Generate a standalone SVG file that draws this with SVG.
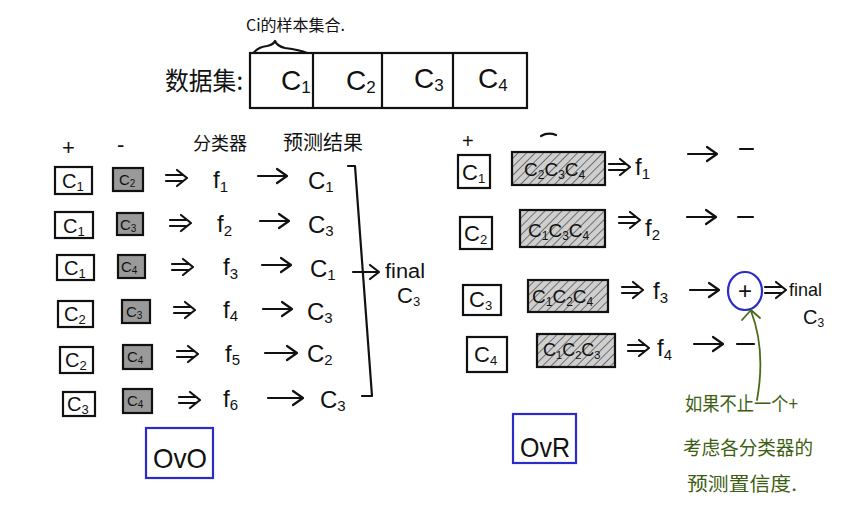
<svg xmlns="http://www.w3.org/2000/svg" width="841" height="507" viewBox="0 0 841 507">
<style>
.ln{fill:none;stroke:#111;stroke-width:2.2;stroke-linecap:round;stroke-linejoin:round}
.bx{fill:#fff;stroke:#111;stroke-width:2.2}
.sh{fill:#9a9a9a;stroke:#111;stroke-width:2.2}
.hs{fill:url(#hatch);stroke:#111;stroke-width:2.2}
.blue{fill:none;stroke:#2b2bc8;stroke-width:2.2}
.t{font-family:"Liberation Sans","Noto Sans CJK SC",sans-serif;fill:#111}
.cn{font-family:"Noto Sans CJK SC",sans-serif;fill:#111}
.gr{font-family:"Noto Sans CJK SC",sans-serif;fill:#3d5e12;font-size:19px}
.c{font-size:20px}
.f{font-size:24px}
.r{font-size:24px}
</style>
<defs>
<pattern id="hatch" width="6" height="6" patternUnits="userSpaceOnUse" patternTransform="rotate(45)">
<rect width="6" height="6" fill="#cfcfcf"/>
<line x1="0" y1="0" x2="0" y2="6" stroke="#6e6e6e" stroke-width="2"/>
</pattern>
<path id="dbl" d="M0,-3 H17 M0,3 H17 M11,-8 L21,0 L11,8"/>
<path id="sgl" d="M0,0 H28 M19,-7 L29,0 L19,7"/>
</defs>
<rect width="841" height="507" fill="#fff"/>

<g id="dataset">
<text class="cn" x="246" y="31" font-size="16">Ci的样本集合.</text>
<path class="ln" d="M252,55 Q257,47 267,46 Q273,45 275,41 Q277,46 285,48 Q300,50 307,53"/>
<text class="cn" x="165" y="90" font-size="25" textLength="78" lengthAdjust="spacingAndGlyphs">数据集:</text>
<rect class="bx" x="250" y="53" width="277" height="55"/>
<path class="ln" d="M313,53 V108 M382,53 V108 M453,53 V108"/>
<text class="t" x="281" y="90" font-size="28">C<tspan font-size="17" dy="3">1</tspan></text>
<text class="t" x="346" y="90" font-size="28">C<tspan font-size="17" dy="3">2</tspan></text>
<text class="t" x="414" y="88" font-size="28">C<tspan font-size="17" dy="3">3</tspan></text>
<text class="t" x="478" y="88" font-size="28">C<tspan font-size="17" dy="3">4</tspan></text>
</g>

<g id="ovo-header">
<text class="t" x="62" y="155" font-size="22">+</text>
<text class="t" x="117" y="152" font-size="22">-</text>
<text class="cn" x="193" y="150" font-size="18">分类器</text>
<text class="cn" x="283" y="150" font-size="20">预测结果</text>
</g>

<g id="ovo-row1">
<rect class="bx" x="55" y="167" width="37" height="27"/>
<text class="t c" x="62" y="188">C<tspan font-size="13" dy="3">1</tspan></text>
<rect class="sh" x="113" y="168" width="30" height="23"/>
<text class="t" x="119" y="185" font-size="15">C<tspan font-size="10" dy="2">2</tspan></text>
<text class="t f" x="213" y="188">f<tspan font-size="15" dy="4">1</tspan></text>
<text class="t r" x="308" y="189">C<tspan font-size="15" dy="3">1</tspan></text>
</g>
<g id="ovo-row2">
<rect class="bx" x="55" y="212" width="38" height="26"/>
<text class="t c" x="63" y="233">C<tspan font-size="13" dy="3">1</tspan></text>
<rect class="sh" x="117" y="213" width="26" height="22"/>
<text class="t" x="120" y="230" font-size="15">C<tspan font-size="10" dy="2">3</tspan></text>
<text class="t f" x="217" y="232">f<tspan font-size="15" dy="4">2</tspan></text>
<text class="t r" x="308" y="233">C<tspan font-size="15" dy="3">3</tspan></text>
</g>
<g id="ovo-row3">
<rect class="bx" x="57" y="255" width="37" height="25"/>
<text class="t c" x="64" y="275">C<tspan font-size="13" dy="3">1</tspan></text>
<rect class="sh" x="118" y="255" width="27" height="23"/>
<text class="t" x="121" y="272" font-size="15">C<tspan font-size="10" dy="2">4</tspan></text>
<text class="t f" x="223" y="275">f<tspan font-size="15" dy="4">3</tspan></text>
<text class="t r" x="310" y="277">C<tspan font-size="15" dy="3">1</tspan></text>
</g>
<g id="ovo-row4">
<rect class="bx" x="58" y="301" width="35" height="26"/>
<text class="t c" x="64" y="321">C<tspan font-size="13" dy="3">2</tspan></text>
<rect class="sh" x="122" y="300" width="28" height="23"/>
<text class="t" x="126" y="317" font-size="15">C<tspan font-size="10" dy="2">3</tspan></text>
<text class="t f" x="223" y="318">f<tspan font-size="15" dy="3">4</tspan></text>
<text class="t r" x="307" y="320">C<tspan font-size="15" dy="3">3</tspan></text>
</g>
<g id="ovo-row5">
<rect class="bx" x="60" y="347" width="33" height="26"/>
<text class="t c" x="65" y="367">C<tspan font-size="13" dy="3">2</tspan></text>
<rect class="sh" x="123" y="345" width="29" height="24"/>
<text class="t" x="127" y="362" font-size="15">C<tspan font-size="10" dy="2">4</tspan></text>
<text class="t f" x="225" y="362">f<tspan font-size="15" dy="3">5</tspan></text>
<text class="t r" x="307" y="362">C<tspan font-size="15" dy="3">2</tspan></text>
</g>
<g id="ovo-row6">
<rect class="bx" x="63" y="392" width="32" height="24"/>
<text class="t c" x="67" y="411">C<tspan font-size="13" dy="3">3</tspan></text>
<rect class="sh" x="123" y="389" width="29" height="24"/>
<text class="t" x="127" y="406" font-size="15">C<tspan font-size="10" dy="2">4</tspan></text>
<text class="t f" x="223" y="407">f<tspan font-size="15" dy="3">6</tspan></text>
<text class="t r" x="320" y="408">C<tspan font-size="15" dy="3">3</tspan></text>
</g>

<g id="ovo-final">
<text class="t" x="385" y="278" font-size="20" textLength="40" lengthAdjust="spacingAndGlyphs">final</text>
<text class="t" x="397" y="303" font-size="22">C<tspan font-size="13" dy="3">3</tspan></text>
</g>

<g id="ovo-label">
<rect class="blue" x="146" y="428" width="67" height="50"/>
<text class="t" x="180" y="468" font-size="28" text-anchor="middle" textLength="54" lengthAdjust="spacingAndGlyphs">OvO</text>
</g>

<g id="ovr-header">
<text class="t" x="462" y="148" font-size="20">+</text>
<path class="ln" d="M541,136 Q548,132 556,135"/>
</g>

<g id="ovr-row1">
<rect class="bx" x="458" y="155" width="32" height="33"/>
<text class="t" x="462" y="180" font-size="22">C<tspan font-size="13" dy="3">1</tspan></text>
<rect class="hs" x="512" y="152" width="93" height="33"/>
<text class="t" x="524" y="176" font-size="19">C<tspan font-size="12" dy="3">2</tspan><tspan dy="-3">C</tspan><tspan font-size="12" dy="3">3</tspan><tspan dy="-3">C</tspan><tspan font-size="12" dy="3">4</tspan></text>
<text class="t f" x="635" y="175">f<tspan font-size="15" dy="4">1</tspan></text>
<path class="ln" d="M740,149 H753"/>
</g>
<g id="ovr-row2">
<rect class="bx" x="460" y="217" width="32" height="32"/>
<text class="t" x="464" y="241" font-size="22">C<tspan font-size="13" dy="3">2</tspan></text>
<rect class="hs" x="520" y="210" width="85" height="37"/>
<text class="t" x="528" y="237" font-size="19">C<tspan font-size="12" dy="3">1</tspan><tspan dy="-3">C</tspan><tspan font-size="12" dy="3">3</tspan><tspan dy="-3">C</tspan><tspan font-size="12" dy="3">4</tspan></text>
<text class="t f" x="645" y="236">f<tspan font-size="15" dy="4">2</tspan></text>
<path class="ln" d="M738,217 H753"/>
</g>
<g id="ovr-row3">
<rect class="bx" x="463" y="285" width="38" height="30"/>
<text class="t" x="469" y="307" font-size="22">C<tspan font-size="13" dy="3">3</tspan></text>
<rect class="hs" x="528" y="280" width="80" height="32"/>
<text class="t" x="532" y="303" font-size="19">C<tspan font-size="12" dy="3">1</tspan><tspan dy="-3">C</tspan><tspan font-size="12" dy="3">2</tspan><tspan dy="-3">C</tspan><tspan font-size="12" dy="3">4</tspan></text>
<text class="t f" x="653" y="299">f<tspan font-size="15" dy="4">3</tspan></text>
<ellipse class="blue" cx="745" cy="291" rx="17" ry="19"/>
<text class="t" x="745" y="299" font-size="24" text-anchor="middle">+</text>
<text class="t" x="789" y="296" font-size="19" textLength="33" lengthAdjust="spacingAndGlyphs">final</text>
<text class="t" x="803" y="324" font-size="20">C<tspan font-size="12" dy="3">3</tspan></text>
</g>
<g id="ovr-row4">
<rect class="bx" x="467" y="337" width="40" height="35"/>
<text class="t" x="474" y="362" font-size="22">C<tspan font-size="13" dy="3">4</tspan></text>
<rect class="hs" x="537" y="334" width="78" height="33"/>
<text class="t" x="543" y="356" font-size="18">C<tspan font-size="11" dy="3">1</tspan><tspan dy="-3">C</tspan><tspan font-size="11" dy="3">2</tspan><tspan dy="-3">C</tspan><tspan font-size="11" dy="3">3</tspan></text>
<text class="t f" x="657" y="356">f<tspan font-size="15" dy="4">4</tspan></text>
<path class="ln" d="M737,344 H754"/>
</g>

<g id="ovr-label">
<rect class="blue" x="513" y="414" width="63" height="49"/>
<text class="t" x="545" y="457" font-size="28" text-anchor="middle" textLength="50" lengthAdjust="spacingAndGlyphs">OvR</text>
</g>

<g id="note">
<text class="gr" x="685" y="411" textLength="113" lengthAdjust="spacingAndGlyphs">如果不止一个+</text>
<text class="gr" x="683" y="455" textLength="130" lengthAdjust="spacingAndGlyphs">考虑各分类器的</text>
<text class="gr" x="687" y="491" textLength="110" lengthAdjust="spacingAndGlyphs">预测置信度.</text>
</g>

<g id="connectors" class="ln">
<use href="#dbl" x="166" y="178"/>
<use href="#sgl" x="258" y="176"/>
<use href="#dbl" x="170" y="223"/>
<use href="#sgl" x="260" y="221"/>
<use href="#dbl" x="172" y="267"/>
<use href="#sgl" x="262" y="265"/>
<use href="#dbl" x="174" y="310"/>
<use href="#sgl" x="263" y="309"/>
<use href="#dbl" x="177" y="354"/>
<path d="M265,353 H296 M287,346 L297,353 L287,360"/>
<use href="#dbl" x="179" y="400"/>
<path d="M268,398 H302 M293,391 L303,398 L293,405"/>
<path d="M348,166 H355 L372,396 H362"/>
<path d="M353,272 H378 M370,265 L379,272 L370,279"/>
<use href="#dbl" x="609" y="167"/>
<use href="#sgl" x="688" y="154"/>
<use href="#dbl" x="619" y="220"/>
<use href="#sgl" x="687" y="217"/>
<use href="#dbl" x="622" y="290"/>
<use href="#sgl" x="690" y="290"/>
<use href="#dbl" x="765" y="290"/>
<use href="#dbl" x="628" y="348"/>
<use href="#sgl" x="694" y="344"/>
<path d="M757,400 Q766,350 751,311 M742,320 L751,310 L760,318" stroke="#4a6a1a" stroke-width="1.8"/>
</g>
</svg>
